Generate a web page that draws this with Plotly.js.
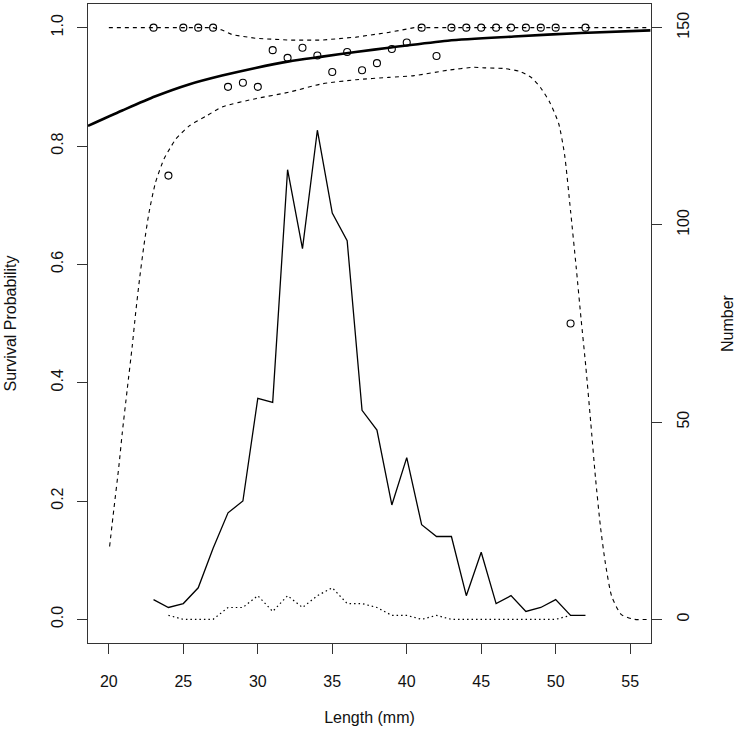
<!DOCTYPE html>
<html>
<head>
<meta charset="utf-8">
<script src="https://cdn.plot.ly/plotly-3.0.1.min.js"></script>
<style>
  html, body { margin: 0; padding: 0; background: #ffffff; }
  #chart { width: 737px; height: 735px; }
</style>
</head>
<body>
<div id="chart"></div>
<script>
// ---- Data ----
// Observed lengths (mm)
var lengths = [23,24,25,26,27,28,29,30,31,32,33,34,35,36,37,38,39,40,41,42,43,44,45,46,47,48,49,50,51,52];
// Observed survival proportions (open circles)
var survProp = [1,0.75,1,1,1,0.90,0.907,0.90,0.962,0.949,0.966,0.953,0.925,0.959,0.928,0.94,0.964,0.975,1,0.952,1,1,1,1,1,1,1,1,0.5,1];
// Number of survivors per length (solid line, right axis)
var survivors = [5,3,4,8,18,27,30,56,55,114,94,124,103,96,53,48,29,41,24,21,21,6,17,4,6,2,3,5,1,1];
// Number of deaths per length (dotted line, right axis)
var deathLengths = [24,25,26,27,28,29,30,31,32,33,34,35,36,37,38,39,40,41,42,43,44,45,46,47,48,49,50,51];
var deaths = [1,0,0,0,3,3,6,2,6,3,6,8,4,4,3,1,1,0,1,0,0,0,0,0,0,0,0,1];
// Fitted survival curve (thick line)
var fitX = [18.6,20.9,23.13,25.37,27.6,29.85,32.09,34.33,36.57,38.8,42.75,47.2,51.7,56.36];
var fitY = [0.834,0.860,0.884,0.904,0.919,0.932,0.943,0.951,0.959,0.966,0.978,0.985,0.991,0.9955];
// Upper confidence band (dashed)
var upX = [20,27.0,27.6,28.3,29.85,32.1,34.3,36.6,38.8,40.5,56.3];
var upY = [1,1,0.996,0.988,0.982,0.979,0.979,0.984,0.992,1.0,1.0];
// Lower confidence band (dashed)
var lowX = [20.05,20.33,20.67,20.9,21.23,21.57,21.8,22.06,22.35,22.7,23.13,23.7,24.2,24.5,25.4,26.5,27.6,29.85,32.1,34.3,36.6,38.8,40.5,42.75,44.5,45.3,46.5,47.6,48.4,49.0,49.6,50.2,50.6,51.0,51.37,51.7,52.02,52.35,52.67,53.0,53.33,53.76,54.41,55.28,56.3];
var lowY = [0.123,0.185,0.258,0.315,0.388,0.462,0.518,0.575,0.631,0.688,0.738,0.778,0.800,0.812,0.834,0.850,0.866,0.880,0.891,0.905,0.912,0.916,0.919,0.928,0.933,0.932,0.931,0.926,0.915,0.898,0.874,0.838,0.785,0.69,0.597,0.509,0.428,0.334,0.24,0.158,0.096,0.039,0.008,0,0];
// Axis ticks
var xTicks = [20,25,30,35,40,45,50,55];
var yTicks = [0,0.2,0.4,0.6,0.8,1.0];
var yTickText = ['0.0','0.2','0.4','0.6','0.8','1.0'];
var y2Ticks = [0,50,100,150];

var ink = '#000000';
var font = 'Liberation Sans, Arial, sans-serif';

var traces = [
  { x: lowX, y: lowY, type: 'scatter', mode: 'lines', line: {color: ink, width: 1.1, dash: '4px,4px', shape: 'spline', smoothing: 0.6}, hoverinfo: 'skip' },
  { x: upX, y: upY, type: 'scatter', mode: 'lines', line: {color: ink, width: 1.1, dash: '4px,4px'}, hoverinfo: 'skip' },
  { x: fitX, y: fitY, type: 'scatter', mode: 'lines', line: {color: ink, width: 2.6, shape: 'spline', smoothing: 0.8} },
  { x: lengths, y: survProp, type: 'scatter', mode: 'markers', marker: {symbol: 'circle-open', size: 7, color: ink, line: {width: 1.1, color: ink}} },
  { x: lengths, y: survivors, type: 'scatter', mode: 'lines', yaxis: 'y2', line: {color: ink, width: 1.3} },
  { x: deathLengths, y: deaths, type: 'scatter', mode: 'lines', yaxis: 'y2', line: {color: ink, width: 1.2, dash: '1.5px,3px'} }
];

var layout = {
  width: 737, height: 735,
  margin: {l: 88, r: 86, t: 4, b: 92, pad: 0},
  paper_bgcolor: '#ffffff', plot_bgcolor: '#ffffff',
  showlegend: false,
  font: {family: font, size: 16, color: '#111111'},
  xaxis: {
    range: [18.6, 56.4], tickvals: xTicks, ticks: 'outside', ticklen: 10, tickwidth: 1, tickcolor: '#333',
    showline: true, linecolor: '#333', linewidth: 1, mirror: true, showgrid: false, zeroline: false,
    tickfont: {size: 16}, ticklabelstandoff: 14,
    title: {text: 'Length (mm)', font: {size: 16}, standoff: 22}
  },
  yaxis: {
    range: [-0.04, 1.04], tickvals: yTicks, ticktext: yTickText, tickangle: -90,
    ticks: 'outside', ticklen: 10, tickwidth: 1, tickcolor: '#333',
    showline: true, linecolor: '#333', linewidth: 1, mirror: true, showgrid: false, zeroline: false,
    tickfont: {size: 16}, ticklabelstandoff: 8,
    title: {text: 'Survival Probability', font: {size: 16}, standoff: 27}
  },
  yaxis2: {
    range: [-6, 156], tickvals: y2Ticks, tickangle: -90, overlaying: 'y', side: 'right',
    ticks: 'outside', ticklen: 10, tickwidth: 1, tickcolor: '#333',
    showline: false, showgrid: false, zeroline: false,
    tickfont: {size: 16}, ticklabelstandoff: 8,
    title: {text: 'Number', font: {size: 16}, standoff: 30}
  }
};

Plotly.newPlot('chart', traces, layout, {displayModeBar: false, staticPlot: true});
</script>
</body>
</html>
